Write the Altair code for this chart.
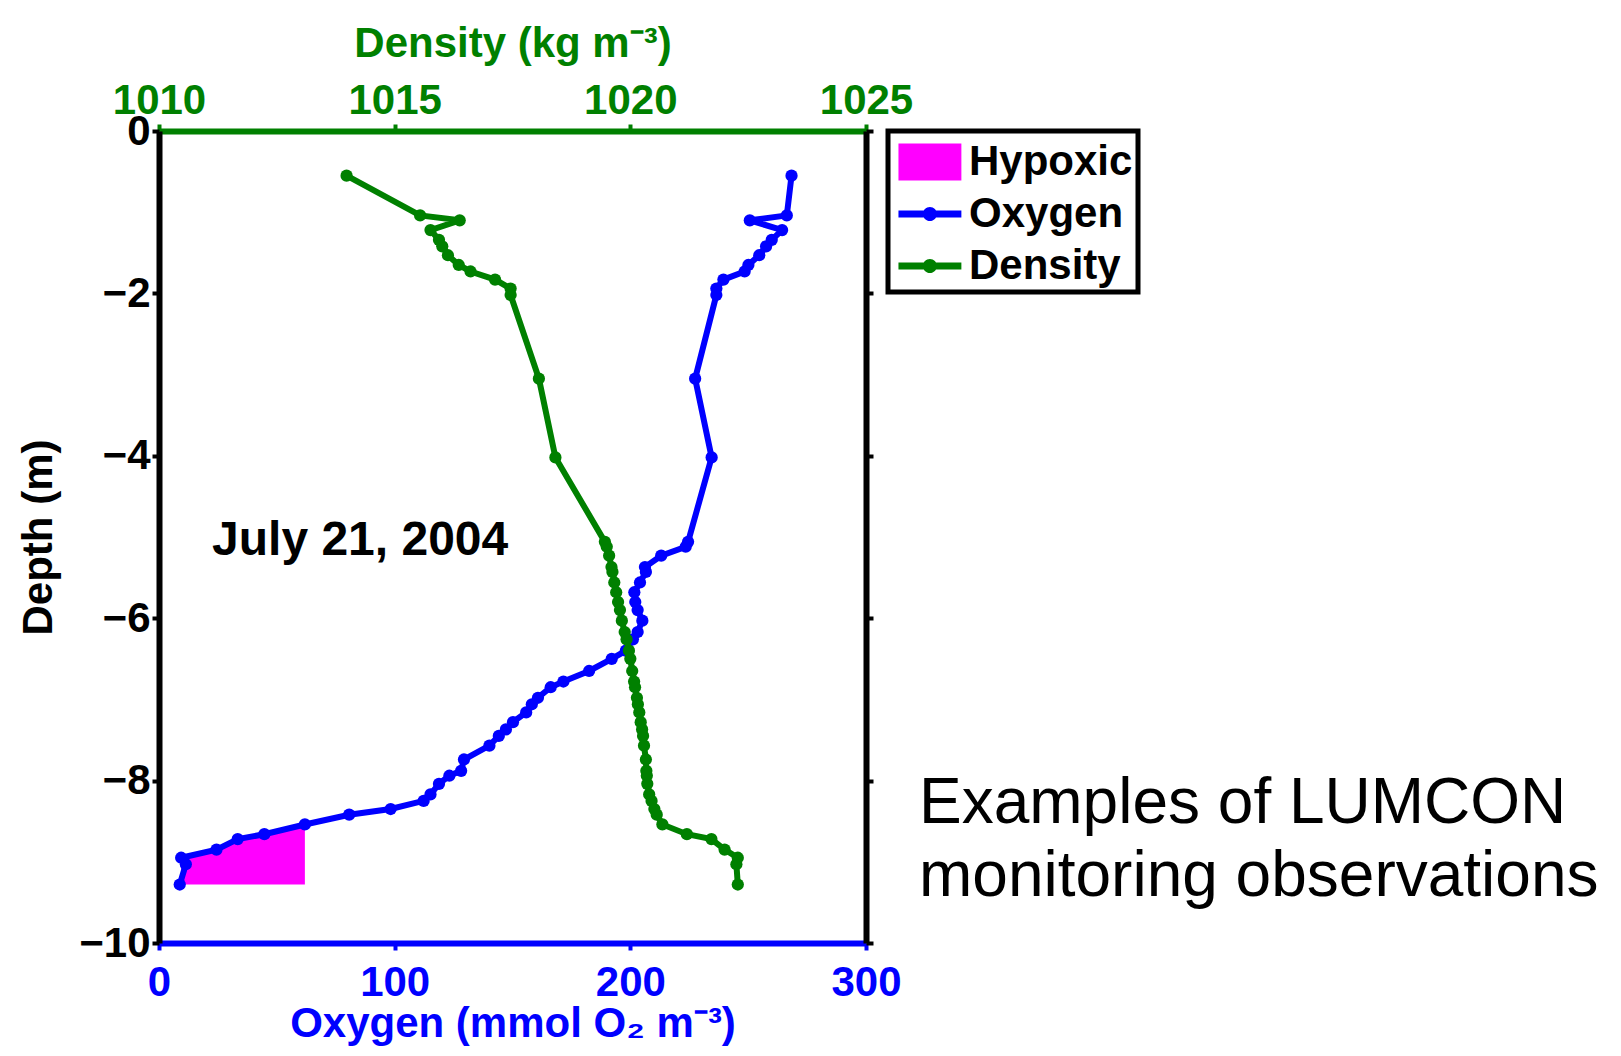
import altair as alt
import pandas as pd

# ---------------- data ----------------
depth = [-0.55, -1.04, -1.10, -1.22, -1.34, -1.42, -1.53, -1.65, -1.73, -1.83,
         -1.94, -2.02, -3.05, -4.02, -5.06, -5.12, -5.23, -5.37, -5.43, -5.56,
         -5.68, -5.80, -5.90, -6.03, -6.17, -6.26, -6.40, -6.50, -6.65, -6.78,
         -6.85, -6.98, -7.06, -7.16, -7.28, -7.37, -7.45, -7.57, -7.74, -7.88,
         -7.94, -8.04, -8.17, -8.25, -8.35, -8.42, -8.54, -8.66, -8.72, -8.85,
         -8.95, -9.03, -9.28]
oxygen = [268.4, 266.4, 250.7, 264.4, 260.0, 257.6, 254.7, 250.1, 248.5, 239.5,
          236.5, 236.5, 227.5, 234.5, 224.5, 223.5, 213.1, 206.2, 206.6, 204.1,
          201.7, 202.1, 203.1, 205.1, 203.1, 201.1, 198.1, 192.1, 182.5, 171.6,
          166.2, 160.8, 158.2, 155.8, 150.2, 147.2, 144.2, 140.2, 129.4, 128.2,
          123.2, 118.8, 115.2, 112.3, 98.3, 80.7, 61.9, 44.7, 33.4, 24.4,
          9.4, 11.4, 8.8]
density = [1013.98, 1015.54, 1016.38, 1015.76, 1015.94, 1016.01, 1016.13, 1016.36, 1016.61, 1017.13,
           1017.46, 1017.46, 1018.06, 1018.41, 1019.46, 1019.50, 1019.55, 1019.60, 1019.62, 1019.66,
           1019.70, 1019.74, 1019.78, 1019.82, 1019.88, 1019.92, 1019.97, 1020.00, 1020.04, 1020.08,
           1020.10, 1020.14, 1020.16, 1020.19, 1020.22, 1020.25, 1020.27, 1020.29, 1020.33, 1020.34,
           1020.35, 1020.36, 1020.40, 1020.45, 1020.51, 1020.56, 1020.68, 1021.20, 1021.72, 1022.00,
           1022.28, 1022.25, 1022.28]

hyp_oxygen = [9.4, 24.4, 33.4, 44.7, 61.9]
hyp_depth = [-8.95, -8.85, -8.72, -8.66, -8.54]
hyp_bottom = -9.28

legend_items = ["Hypoxic", "Oxygen", "Density"]
y_ticks = [-10, -8, -6, -4, -2, 0]
oxy_ticks = [0, 100, 200, 300]
den_ticks = [1010, 1015, 1020, 1025]

date_label = "July 21, 2004"
note_label = "Examples of LUMCON\nmonitoring observations"

# ---------------- styling ----------------
BLUE = "#0000ff"
GREEN = "#008000"
MAGENTA = "#ff00ff"
FONT = "Liberation Sans, Arial, Helvetica, sans-serif"
FS = 42

df = pd.DataFrame({"idx": list(range(len(depth))), "depth": depth,
                   "oxygen": oxygen, "density": density})
hyp = pd.DataFrame({"oxygen": hyp_oxygen, "depth": hyp_depth,
                    "bottom": [hyp_bottom] * len(hyp_oxygen)})
leg_df = pd.DataFrame({"series": legend_items})
date_df = pd.DataFrame({"oxygen": [22.5], "depth": [-5.05], "label": [date_label]})
note_df = pd.DataFrame({"label": [note_label]})

yscale = alt.Scale(domain=[-10, 0], nice=False, zero=False)
oscale = alt.Scale(domain=[0, 300], nice=False, zero=False)
dscale = alt.Scale(domain=[1010, 1025], nice=False, zero=False)

common = dict(labelFont=FONT, titleFont=FONT, labelFontSize=FS, titleFontSize=FS,
              labelFontWeight="bold", titleFontWeight="bold", grid=False,
              tickSize=7, tickWidth=4, labelOverlap=False, labelBound=False)

left_axis = alt.Axis(orient="left", values=y_ticks, format="d", title="Depth (m)",
                     domainColor="black", domainWidth=6, tickColor="black",
                     labelColor="black", titleColor="black", labelPadding=2,
                     titlePadding=18, **common)
right_axis = alt.Axis(orient="right", values=y_ticks, labels=False, title=None,
                      domainColor="black", domainWidth=6, tickColor="black",
                      **common)
oxy_axis = alt.Axis(orient="bottom", values=oxy_ticks, format="d",
                    title="Oxygen (mmol O₂ m⁻³)", domainColor=BLUE, domainWidth=6,
                    tickColor=BLUE, labelColor=BLUE, titleColor=BLUE,
                    labelFlush=False, labelPadding=12, titlePadding=0, **common)
den_axis = alt.Axis(orient="top", values=den_ticks, format="d",
                    title="Density (kg m⁻³)", domainColor=GREEN, domainWidth=6,
                    tickColor=GREEN, labelColor=GREEN, titleColor=GREEN,
                    labelFlush=False, labelPadding=2, titlePadding=14, **common)

y_left = alt.Y("depth:Q", scale=yscale, axis=left_axis)
y_right = alt.Y("depth:Q", scale=yscale, axis=right_axis)
x_oxy = alt.X("oxygen:Q", scale=oscale, axis=oxy_axis)
x_den = alt.X("density:Q", scale=dscale, axis=den_axis)

LW = 6
PS = 150

# ---------------- oxygen group ----------------
area = alt.Chart(hyp).mark_area(color=MAGENTA, opacity=1).encode(
    x=x_oxy, y=y_left, y2=alt.Y2("bottom:Q"))
oxy_line = alt.Chart(df).mark_line(color=BLUE, strokeWidth=LW).encode(
    x=x_oxy, y=y_left, order=alt.Order("idx:Q"))
oxy_pts = alt.Chart(df).mark_circle(color=BLUE, size=PS, opacity=1).encode(
    x=x_oxy, y=y_left)
date_txt = alt.Chart(date_df).mark_text(
    align="left", baseline="middle", font=FONT, fontSize=48, fontWeight="bold",
    color="black").encode(x=x_oxy, y=y_left, text="label:N")
note_txt = alt.Chart(note_df).mark_text(
    align="left", baseline="alphabetic", font=FONT, fontSize=64, fontWeight="normal",
    color="black", lineBreak="\n", lineHeight=73).encode(
    x=alt.value(760), y=alt.value(692), text="label:N")

# legend glyphs: magenta block, and a line with a dot (custom symbol paths)
p_rect = "M-0.79,-0.71H1.63V0.71H-0.79Z"
p_line = ("M-0.79,-0.13H0.22V0.13H-0.79Z M0.62,-0.13H1.63V0.13H0.62Z "
          "M0.69,0A0.27,0.27,0,1,1,0.15,0A0.27,0.27,0,1,1,0.69,0Z")
leg = alt.Legend(orient="right", offset=13, padding=5, strokeColor="black",
                 fillColor="white", labelFontSize=FS, labelFontWeight="bold",
                 labelFont=FONT, labelColor="black", symbolSize=2704,
                 symbolStrokeWidth=0, symbolOpacity=1, labelOffset=24,
                 rowPadding=5, labelLimit=400, cornerRadius=0)
legend_layer = alt.Chart(leg_df).mark_point(filled=True, opacity=0).encode(
    x=alt.value(10), y=alt.value(10),
    color=alt.Color("series:N", title=None, legend=leg,
                    scale=alt.Scale(domain=legend_items, range=[MAGENTA, BLUE, GREEN])),
    shape=alt.Shape("series:N", title=None, legend=leg,
                    scale=alt.Scale(domain=legend_items, range=[p_rect, p_line, p_line])))

oxy_group = alt.layer(area, oxy_line, oxy_pts, date_txt, note_txt, legend_layer)

# ---------------- density group ----------------
den_line = alt.Chart(df).mark_line(color=GREEN, strokeWidth=LW).encode(
    x=x_den, y=y_right, order=alt.Order("idx:Q"))
den_pts = alt.Chart(df).mark_circle(color=GREEN, size=PS, opacity=1).encode(
    x=x_den, y=y_right)
den_group = alt.layer(den_line, den_pts)

chart = alt.layer(oxy_group, den_group).resolve_scale(
    x="independent").resolve_axis(y="independent").properties(
    width=707, height=812,
    padding={"left": 17, "top": 22, "right": 5, "bottom": 5},
    background="white",
).configure_view(stroke=None).configure_legend(strokeWidth=5)

chart.save("out.html", embed_options={"renderer": "svg", "actions": False})
